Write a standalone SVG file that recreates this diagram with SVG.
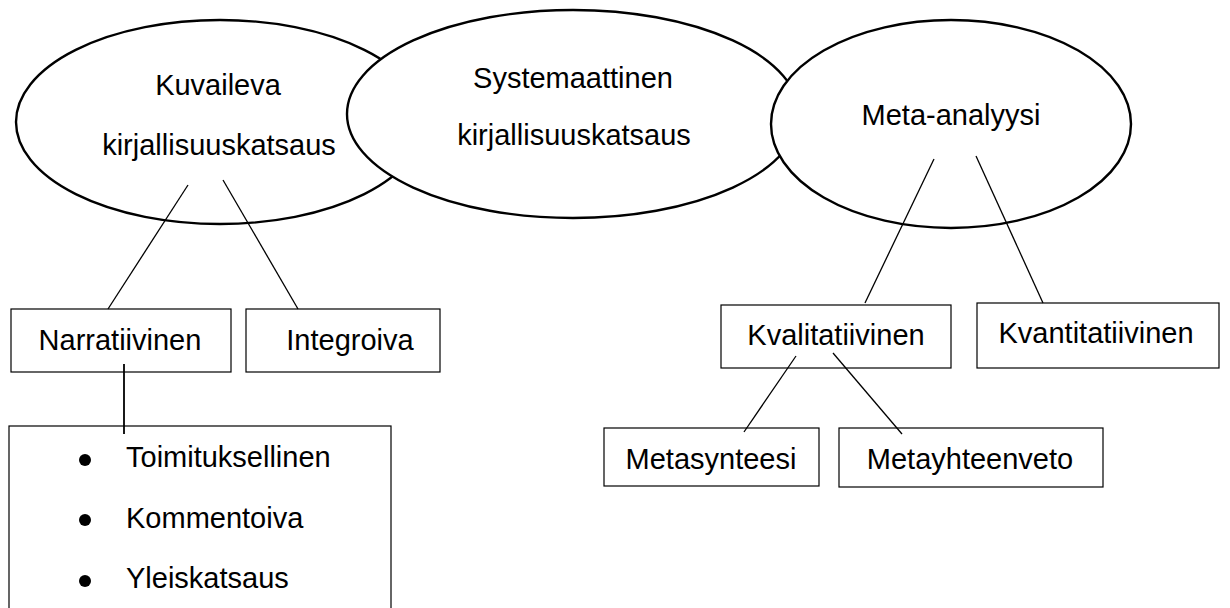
<svg xmlns="http://www.w3.org/2000/svg" width="1230" height="608" viewBox="0 0 1230 608">
<style>
.ell{fill:#fff;stroke:#000;stroke-width:2.4}
.box{fill:#fff;stroke:#000;stroke-width:1.2}
.t{font-family:"Liberation Sans",Arial,sans-serif;font-size:29px;fill:#000}
.c{text-anchor:middle}
.ln{stroke:#000;stroke-width:1.3;fill:none}
</style>
<rect width="1230" height="608" fill="#fff"/>
<g id="node-kuvaileva">
<ellipse class="ell" cx="220" cy="122" rx="204" ry="102"/>
<text class="t c" x="218" y="95">Kuvaileva</text>
<text class="t c" x="219" y="155">kirjallisuuskatsaus</text>
</g>
<g id="node-systemaattinen">
<ellipse class="ell" cx="573" cy="114" rx="226" ry="104"/>
<text class="t c" x="573" y="88">Systemaattinen</text>
<text class="t c" x="574" y="145">kirjallisuuskatsaus</text>
</g>
<g id="node-meta">
<ellipse class="ell" cx="951" cy="124" rx="180" ry="104"/>
<text class="t c" x="951" y="125">Meta-analyysi</text>
</g>
<g id="node-narratiivinen">
<rect class="box" x="11" y="309" width="220" height="63"/>
<text class="t c" x="120" y="350">Narratiivinen</text>
</g>
<g id="node-integroiva">
<rect class="box" x="246" y="309" width="194" height="63"/>
<text class="t c" x="350" y="350">Integroiva</text>
</g>
<g id="node-lista">
<rect class="box" x="9" y="426" width="382" height="200"/>
<circle cx="85" cy="460" r="6"/>
<circle cx="85" cy="520" r="6"/>
<circle cx="85" cy="581" r="6"/>
<text class="t" x="126" y="467">Toimituksellinen</text>
<text class="t" x="126" y="528">Kommentoiva</text>
<text class="t" x="126" y="588">Yleiskatsaus</text>
</g>
<g id="node-kvalitatiivinen">
<rect class="box" x="721" y="305" width="230" height="63"/>
<text class="t c" x="836" y="345">Kvalitatiivinen</text>
</g>
<g id="node-kvantitatiivinen">
<rect class="box" x="977" y="303" width="242" height="65"/>
<text class="t c" x="1096" y="343">Kvantitatiivinen</text>
</g>
<g id="node-metasynteesi">
<rect class="box" x="604" y="428" width="215" height="58"/>
<text class="t c" x="711" y="469">Metasynteesi</text>
</g>
<g id="node-metayhteenveto">
<rect class="box" x="839" y="428" width="264" height="59"/>
<text class="t c" x="970" y="469">Metayhteenveto</text>
</g>
<g id="connectors">
<line class="ln" x1="188" y1="185" x2="108" y2="309"/>
<line class="ln" x1="223" y1="180" x2="298" y2="309"/>
<line class="ln" x1="124" y1="364" x2="124" y2="434" style="stroke-width:1.8"/>
<line class="ln" x1="934" y1="159" x2="865" y2="303"/>
<line class="ln" x1="976" y1="156" x2="1043" y2="303"/>
<line class="ln" x1="796" y1="356" x2="744" y2="432"/>
<line class="ln" x1="833" y1="353" x2="902" y2="434"/>
</g>
</svg>
